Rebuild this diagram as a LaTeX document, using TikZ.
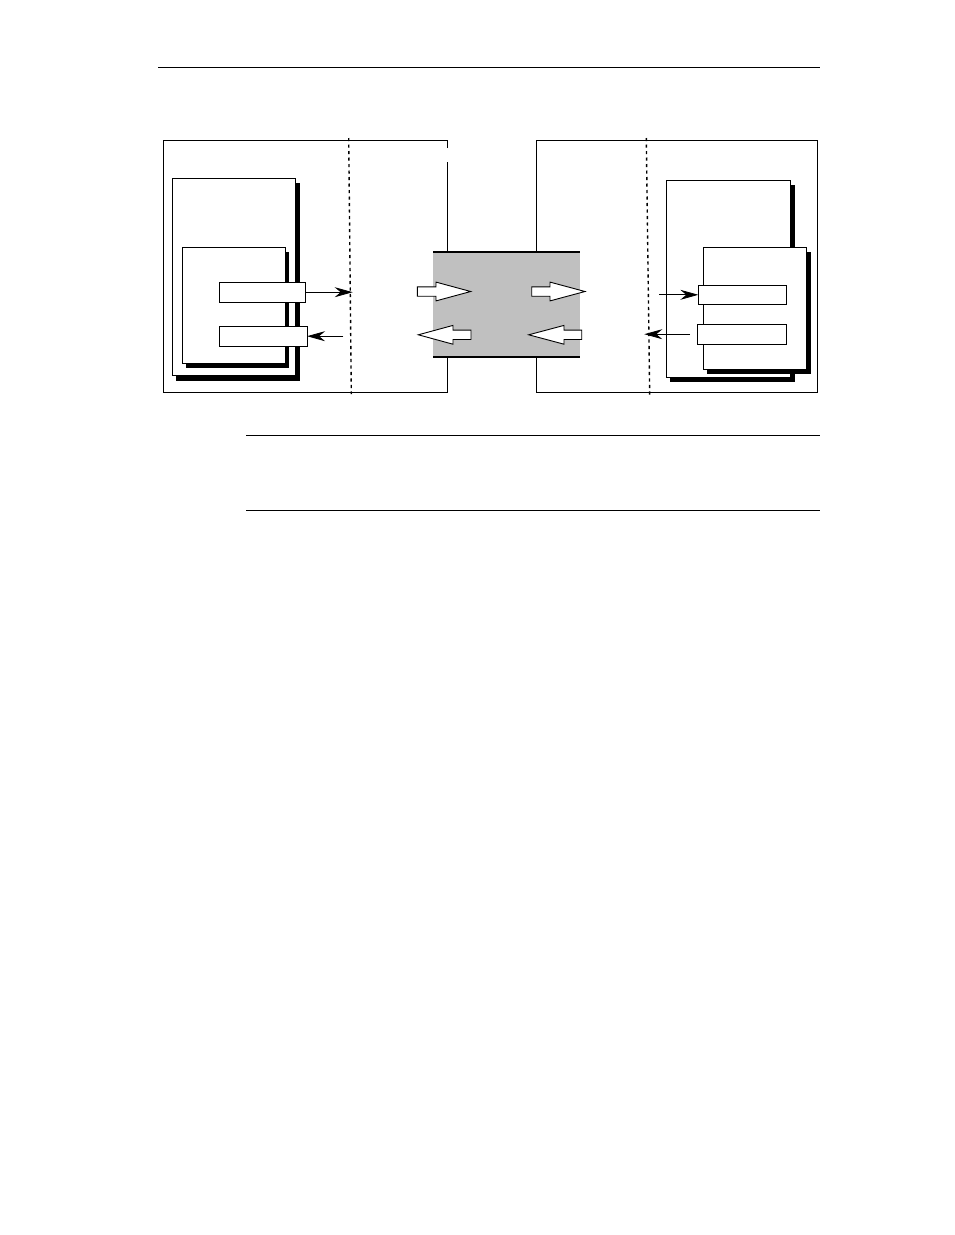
\documentclass[tikz,border=0pt]{standalone}
\usetikzlibrary{arrows.meta,shadows}
\definecolor{bandgray}{RGB}{192,192,192}
\begin{document}
\begin{tikzpicture}[x=1pt,y=-1pt,
  rule/.style={line width=1.2pt},
  frame/.style={line width=0.9pt},
  sep/.style={line width=1.4pt, dash pattern=on 3.2pt off 3.3pt},
  card/.style={draw, fill=white, line width=0.9pt, inner sep=0pt, outer sep=0pt},
  shad/.style={drop shadow={shadow xshift=#1, shadow yshift=-5pt, fill=black, opacity=1}},
  port/.style={draw, fill=white, line width=0.9pt, inner sep=0pt, outer sep=0pt},
  sig/.style={line width=0.8pt, -{Stealth[length=18pt,width=10pt,inset=6pt]}},
  hollow/.style={draw, fill=white, line width=0.9pt, line join=miter},
  band/.style={line width=2pt}]
\useasboundingbox (0,0) rectangle (954,1235);

% rules
\draw[rule] (158.3,67.3) -- (820,67.3);
\draw[rule] (246,435.3) -- (819.5,435.3);
\draw[rule] (246,510.3) -- (819.5,510.3);

% band between the two devices
\fill[bandgray] (433.3,252.3) rectangle (580,356.7);
\draw[band] (433.3,252.3) -- (580,252.3);
\draw[band] (433.3,356.7) -- (580,356.7);

% left outer frame
\draw[frame] (447.3,148) -- (447.3,140) -- (163.3,140) -- (163.3,392.7) -- (447.3,392.7) -- (447.3,356.7);
\draw[frame] (447.3,252.3) -- (447.3,162);
% right outer frame
\draw[frame] (536.7,252.3) -- (536.7,140) -- (817.7,140) -- (817.7,392.7) -- (536.7,392.7) -- (536.7,356.7);

% dashed separators
\draw[sep] (348.7,138) -- (351.3,394);
\draw[sep] (646.3,138) -- (649.7,396);

% left cards
\node[card, shad=4pt, minimum width=123.4pt, minimum height=197.4pt] (lcard) at (234,277) {};
\node[card, shad=3.5pt, minimum width=103.4pt, minimum height=116pt] (linner) at (234,305.3) {};
\node[port, minimum width=86pt, minimum height=19.7pt] (lp1) at (262.3,292.2) {};
\node[port, minimum width=87.7pt, minimum height=19.7pt] (lp2) at (263.2,336.2) {};

% right cards
\node[card, shad=4.5pt, minimum width=124.7pt, minimum height=197.3pt] (rcard) at (728.3,278.7) {};
\node[card, shad=4pt, minimum width=103.4pt, minimum height=122pt] (rinner) at (755,308.3) {};
\node[port, line width=1.4pt, minimum width=88.4pt, minimum height=19pt] (rp1) at (742.5,294.8) {};
\node[port, minimum width=89.4pt, minimum height=19.7pt] (rp2) at (742,334.2) {};

% signal arrows
\coordinate (lout) at (352.7,292.2);
\coordinate (lin) at (343.3,336.2);
\coordinate (rin) at (659.3,294.8);
\coordinate (rsrc) at (690,334.2);
\coordinate (rout) at (644.3,334.2);
\draw[sig] (lp1.east) -- (lout);
\draw[sig] (lin) -- (lp2.east);
\draw[sig] (rin) -- (rp1.west);
\draw[sig] (rsrc) -- (rout);

% hollow arrows (right pointing)
\foreach \xt/\xb/\xp in {417.3/436/470.7, 531.7/550/585}{
  \draw[hollow] (\xt,286.8) -- (\xb,286.8) -- (\xb,282.1) -- (\xp,291.5) -- (\xb,300.9) -- (\xb,296.2) -- (\xt,296.2) -- cycle;
}
% hollow arrows (left pointing)
\foreach \xp/\xb/\xt in {418.3/453/471, 528.7/564/581.7}{
  \draw[hollow] (\xt,330.1) -- (\xb,330.1) -- (\xb,325.4) -- (\xp,334.8) -- (\xb,344.2) -- (\xb,339.5) -- (\xt,339.5) -- cycle;
}
\end{tikzpicture}
\end{document}
